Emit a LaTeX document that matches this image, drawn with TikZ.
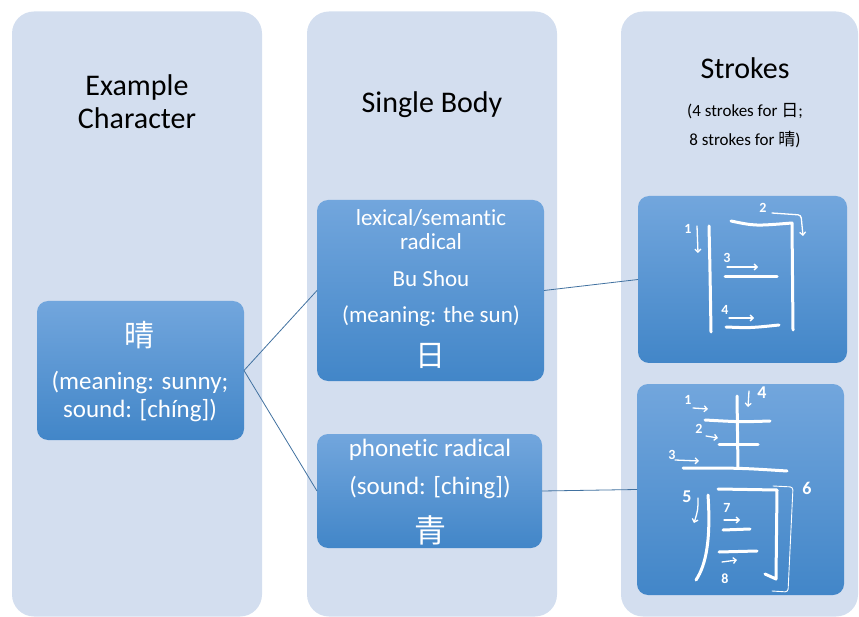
\documentclass[tikz,border=0pt]{standalone}
\usepackage{fontspec}
\setmainfont[Ligatures=NoCommon]{Carlito}
\newfontfamily\cjk{Noto Sans CJK SC}
\usetikzlibrary{arrows.meta}

\definecolor{panel}{RGB}{211,222,239}
\definecolor{boxtop}{RGB}{114,166,221}
\definecolor{boxbot}{RGB}{66,134,200}
\definecolor{link}{RGB}{65,113,160}

\begin{document}
\begin{tikzpicture}[x=1pt,y=-1pt,
  panelbox/.style={fill=panel, rounded corners=22pt, inner sep=0pt, outer sep=0pt},
  bluebox/.style={rounded corners=11pt, top color=boxtop, bottom color=boxbot,
                  draw=none, inner sep=0pt, outer sep=0pt},
  head/.style={font=\fontsize{30}{36}\selectfont, anchor=base, inner sep=0pt},
  sub/.style={font=\fontsize{17}{20}\selectfont, anchor=base, inner sep=0pt},
  wtxt/.style={text=white, anchor=base, inner sep=0pt},
  han/.style={text=white, anchor=center, inner sep=0pt},
  link/.style={draw=link, line width=0.8pt},
  brush/.style={draw=white, line width=3pt, line cap=round, line join=round},
  hint/.style={draw=white, line width=1.3pt, line cap=round, line join=round,
               -{Straight Barb[length=3pt,width=6pt]}},
  num/.style={text=white, inner sep=0pt, font=\bfseries\fontsize{14}{16}\selectfont},
  bignum/.style={text=white, inner sep=0pt, font=\bfseries\fontsize{18}{20}\selectfont}
]
\useasboundingbox (0,0) rectangle (859,617);

% background columns
\node[panelbox, minimum width=250pt, minimum height=605pt] (col1) at (137,314) {};
\node[panelbox, minimum width=250pt, minimum height=605pt] (col2) at (432,314) {};
\node[panelbox, minimum width=237pt, minimum height=605pt] (col3) at (739.5,314) {};

% column headings
\node[head] (h1a) at (137,96) {Example};
\node[head] (h1b) at (137,129) {Character};
\node[head] (h2) at (432,113) {Single Body};
\node[head] (h3) at (745,79) {Strokes};
\node[sub] (h3a) at (745,117) {(4 strokes for {\cjk 日};};
\node[sub] (h3b) at (745,146) {8 strokes for {\cjk 晴})};

% blue boxes
\node[bluebox, minimum width=207pt, minimum height=139pt] (char) at (140.5,370.5) {};
\node[bluebox, minimum width=227pt, minimum height=181pt] (sem) at (430.5,290.5) {};
\node[bluebox, minimum width=225pt, minimum height=114pt] (pho) at (429.5,491) {};
\node[bluebox, minimum width=209pt, minimum height=167pt] (sun) at (742.5,279.5) {};
\node[bluebox, minimum width=207pt, minimum height=211pt] (qing) at (740.5,489.5) {};

% connectors
\draw[link] (char.east) -- (sem.west);
\draw[link] (char.east) -- (pho.west);
\draw[link] (sem.east) -- (sun.west);
\draw[link] (pho.east) -- (qing.west);

% text of the example character
\node[han, font=\cjk\fontsize{30}{34}\selectfont] (tA0) at (139,335) {晴};
\node[wtxt, font=\fontsize{25}{30}\selectfont] (tA1) at (140,389) {(meaning: sunny;};
\node[wtxt, font=\fontsize{25}{30}\selectfont] (tA2) at (140,417) {sound: [chíng])};

% text of the semantic radical
\node[wtxt, font=\fontsize{23}{28}\selectfont] (tB1) at (431,226) {lexical/semantic};
\node[wtxt, font=\fontsize{23}{28}\selectfont] (tB2) at (431,250) {radical};
\node[wtxt, font=\fontsize{23}{28}\selectfont] (tB3) at (431,287) {Bu Shou};
\node[wtxt, font=\fontsize{23}{28}\selectfont] (tB4) at (431,323) {(meaning: the sun)};
\node[han, font=\cjk\fontsize{30}{34}\selectfont] (tB5) at (430,356) {日};

% text of the phonetic radical
\node[wtxt, font=\fontsize{25}{30}\selectfont] (tC1) at (430,456) {phonetic radical};
\node[wtxt, font=\fontsize{25}{30}\selectfont] (tC2) at (430,494) {(sound: [ching])};
\node[han, font=\cjk\fontsize{32}{36}\selectfont] (tC3) at (430,530) {青};

% handwritten strokes of 日
\draw[brush] (709,226) .. controls (710,270) .. (711,332);
\draw[brush] (731,221) .. controls (755,226) .. (792,223) -- (793,330);
\draw[brush] (725,277) -- (777,277);
\draw[brush] (726,327) .. controls (750,328) .. (779,325);
\draw[hint] (697,226) -- (698,253);
\draw[hint, rounded corners=3pt] (772,213) -- (801,215) -- (803,236);
\draw[hint] (727,267) -- (758,267);
\draw[hint] (729,318) -- (754,318);
\node[num] (d1) at (688,229) {1};
\node[num] (d2) at (763,208) {2};
\node[num] (d3) at (727,258) {3};
\node[num] (d4) at (725,310) {4};

% handwritten strokes of 晴
\draw[brush] (737,396) -- (738,468);
\draw[brush] (705,420) .. controls (740,422) .. (770,421);
\draw[brush] (719,444) -- (758,444);
\draw[brush] (683,468) .. controls (740,468) .. (787,471);
\draw[brush] (708,495) .. controls (711,540) and (706,565) .. (696,580);
\draw[brush] (718,489) -- (777,490) -- (776,579) -- (765,574);
\draw[brush] (723,530) -- (750,529);
\draw[brush] (719,552) -- (757,551);
\draw[draw=white, line width=0.9pt, line cap=round, rounded corners=3pt]
  (773,486) -- (793,487) -- (788,592) -- (772,591);
\draw[hint] (693,408) -- (708,409);
\draw[hint] (706,436) -- (718,438);
\draw[hint] (675,460) -- (699,461);
\draw[hint] (749,391) -- (748,407);
\draw[hint] (698,498) .. controls (698,510) .. (694,523);
\draw[hint] (724,520) -- (740,520);
\draw[hint] (722,562) -- (737,560);
\node[num] (e1) at (688,400) {1};
\node[num] (e2) at (699,429) {2};
\node[num] (e3) at (672,455) {3};
\node[bignum] (e4) at (762,393) {4};
\node[bignum] (e5) at (687,497) {5};
\node[bignum] (e6) at (807,488) {6};
\node[num] (e7) at (727,508) {7};
\node[num] (e8) at (725,579) {8};
\end{tikzpicture}
\end{document}
